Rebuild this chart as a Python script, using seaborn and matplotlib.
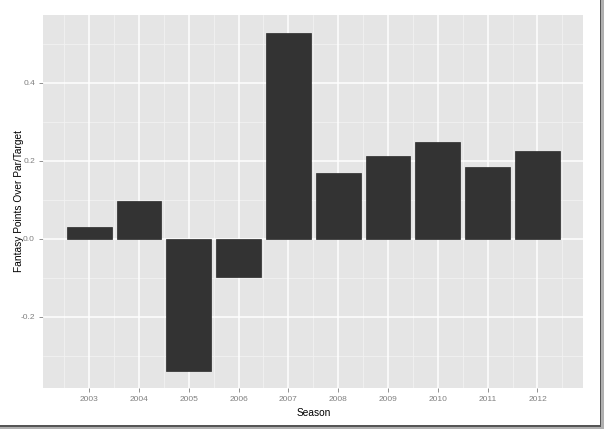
import matplotlib
matplotlib.use("Agg")
import matplotlib.pyplot as plt
import seaborn as sns
import pandas as pd
import numpy as np
from matplotlib.patches import Rectangle

seasons = ["2003", "2004", "2005", "2006", "2007", "2008", "2009", "2010", "2011", "2012"]
values = [0.031, 0.097, -0.338, -0.097, 0.528, 0.169, 0.213, 0.248, 0.185, 0.225]
y_ticks = [-0.2, 0.0, 0.2, 0.4]
y_minor = [-0.3, -0.1, 0.1, 0.3, 0.5]

df = pd.DataFrame({"Season": seasons, "value": values})

sns.set_theme(style="white")
plt.rcParams["font.family"] = ["Liberation Sans", "DejaVu Sans"]

fig = plt.figure(figsize=(6.04, 4.29), dpi=100)
W, H = 604, 429
left, right, top, bottom = 43.3, 583.3, 15, 388
ax = fig.add_axes([left / W, 1 - bottom / H, (right - left) / W, (bottom - top) / H])
ax.set_facecolor("#E5E5E5")

sns.barplot(data=df, x="Season", y="value", color="#333333", saturation=1,
            width=0.9, ax=ax, edgecolor="#2a2a2a", linewidth=0.5, zorder=3)

ax.set_xlim(-0.92, 9.92)
ax.set_ylim(-0.382, 0.573)

# grid lines (ggplot style)
for yv in y_minor:
    ax.axhline(yv, color="#F2F2F2", lw=0.6, zorder=1)
for yv in y_ticks:
    ax.axhline(yv, color="white", lw=1.1, zorder=2)
for xv in np.arange(-0.5, 10.0, 1.0):
    ax.axvline(xv, color="#F2F2F2", lw=0.6, zorder=1)
for xv in range(len(seasons)):
    ax.axvline(xv, color="white", lw=1.1, zorder=2)

ax.set_yticks(y_ticks)
ax.set_yticklabels(["-0.2", "0.0", "0.2", "0.4"])
ax.set_xticks(range(len(seasons)))
ax.set_xticklabels(seasons)
ax.tick_params(axis="both", which="major", length=3, width=0.6, color="#7F7F7F",
               labelsize=6, labelcolor="#7F7F7F", pad=3, direction="out",
               bottom=True, left=True)
for s in ax.spines.values():
    s.set_visible(False)

ax.set_xlabel("Season", fontsize=7.3, color="black", labelpad=3)
ax.set_ylabel("Fantasy Points Over Par/Target", fontsize=7.3, color="black", labelpad=-2.5)

# screenshot border / shadow on right and bottom
fig.add_artist(Rectangle((599.5 / W, 0), 1.8 / W, 1, transform=fig.transFigure,
                         color="#555555", lw=0))
fig.add_artist(Rectangle((601.3 / W, 0), 2.7 / W, 1, transform=fig.transFigure,
                         color="#B0B0B0", lw=0))
fig.add_artist(Rectangle((0, 1 - 426.5 / H), 601.3 / W, 1.8 / H, transform=fig.transFigure,
                         color="#555555", lw=0))
fig.add_artist(Rectangle((0, 0), 1, 2.5 / H, transform=fig.transFigure,
                         color="#B0B0B0", lw=0))

fig.savefig("out.png", dpi=100)
